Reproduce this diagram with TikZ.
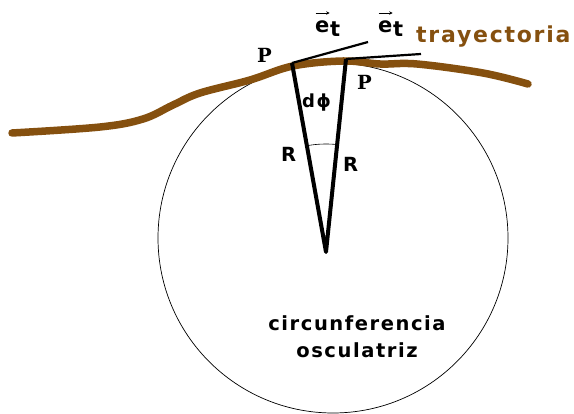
\documentclass[tikz,border=0pt]{standalone}
\usepackage{fontspec}
\setmainfont{DejaVu Sans}[LetterSpace=8]
\newfontfamily\pfont{DejaVu Serif}
\usetikzlibrary{angles,arrows.meta}
\definecolor{trayc}{HTML}{85500F}

\begin{document}
\begin{tikzpicture}[x=1pt,y=-1pt,
  lbl/.style={inner sep=0pt,anchor=base west,font=\fontsize{19.5}{19.5}\selectfont\bfseries},
  plbl/.style={lbl,font=\fontsize{19.5}{19.5}\selectfont\pfont\bfseries},
  elbl/.style={lbl,font=\fontsize{21}{21}\selectfont\bfseries},
  vecmark/.style={-{Stealth[length=3.5pt,width=3.5pt]},line width=1pt,shorten <=0.5pt},
  rad/.style={line width=4pt,line join=round},
  tang/.style={line width=2.2pt},
]
\useasboundingbox (0,0) rectangle (574,414);

%================================================================ CIRCLE ===
\coordinate (C) at (333,238);
\draw[line width=0.7pt] (C) circle[radius=175];

%============================================================ TRAJECTORY ===
\draw[trayc,line width=7.5pt,line cap=round] plot[smooth,tension=0.6] coordinates
  {(12,133) (100,127) (143,119) (173,105) (200,93) (250,80) (293,66) (343,61)
   (380,64) (417,64) (483,73) (528,84)};

%============================================================== TRIANGLE ===
\coordinate (O)  at (326,252);
\coordinate (Pa) at (292,63);
\coordinate (Pb) at (346,59);
\coordinate (Ta) at (368,42);
\coordinate (Tb) at (421,54);

\draw[rad] (Pa) -- (O) -- (Pb);
\draw[tang] (Pa) -- (Ta);
\draw[tang] (Pb) -- (Tb);
\pic[draw,line width=0.6pt,angle radius=108pt] {angle=Pb--O--Pa};

%================================================================ LABELS ===
\node[plbl] (Pl) at (257,63) {P};
\node[plbl] (Pr) at (357,90) {P};

% unit tangent vectors
\node[elbl] (El)  at (315,33) {e};
\node[elbl] (Elt) at (330,37) {t};
\node[elbl] (Er)  at (378,33) {e};
\node[elbl] (Ert) at (393,37) {t};
\draw[vecmark] ([yshift=8pt]El.north west) -- ([yshift=8pt]El.north east);
\draw[vecmark] ([yshift=8pt]Er.north west) -- ([yshift=8pt]Er.north east);

\node[lbl,text=trayc,font=\fontsize{22}{22}\selectfont\bfseries] (tray) at (416,43) {trayectoria};
\node[lbl,font=\fontsize{18}{18}\selectfont\bfseries] (dphi) at (302,108) {dϕ};
\node[lbl] (Rl) at (281,162) {R};
\node[lbl] (Rr) at (343,172) {R};
\node[lbl,anchor=base,align=center,font=\fontsize{19.5}{27}\selectfont\bfseries] (osc) at (357,358)
  {circunferencia\\osculatriz};
\end{tikzpicture}
\end{document}
